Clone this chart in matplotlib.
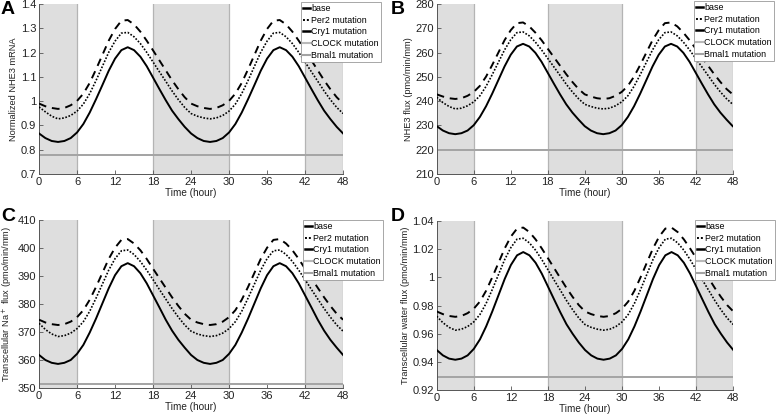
import matplotlib
matplotlib.use("Agg")
import matplotlib.pyplot as plt
from matplotlib.lines import Line2D

plt.rcParams['font.family'] = ['Liberation Sans', 'DejaVu Sans']

hours = list(range(0, 49))

# ---------- Panel A: Normalized NHE3 mRNA ----------
a_base = [0.867, 0.848, 0.836, 0.832, 0.836, 0.848, 0.871, 0.906, 0.953, 1.008, 1.066, 1.125,
          1.175, 1.210, 1.222, 1.210, 1.183, 1.144, 1.097, 1.050, 1.004, 0.961, 0.926, 0.894,
          0.867, 0.848, 0.836, 0.832, 0.836, 0.848, 0.871, 0.906, 0.953, 1.008, 1.066, 1.125,
          1.175, 1.210, 1.222, 1.210, 1.183, 1.144, 1.097, 1.050, 1.004, 0.961, 0.926, 0.894,
          0.867]
a_per2 = [0.976, 0.956, 0.938, 0.927, 0.931, 0.941, 0.959, 0.988, 1.031, 1.085, 1.143, 1.201,
          1.247, 1.280, 1.283, 1.265, 1.237, 1.201, 1.161, 1.121, 1.082, 1.042, 1.006, 0.974,
          0.949, 0.938, 0.931, 0.927, 0.931, 0.941, 0.959, 0.988, 1.031, 1.085, 1.143, 1.201,
          1.247, 1.280, 1.283, 1.265, 1.237, 1.201, 1.161, 1.121, 1.082, 1.042, 1.006, 0.974,
          0.949]
a_cry1 = [0.990, 0.979, 0.972, 0.968, 0.972, 0.983, 1.001, 1.031, 1.075, 1.131, 1.190, 1.249,
          1.297, 1.331, 1.334, 1.316, 1.286, 1.249, 1.209, 1.168, 1.127, 1.086, 1.049, 1.016,
          0.990, 0.979, 0.972, 0.968, 0.972, 0.983, 1.001, 1.031, 1.075, 1.131, 1.190, 1.249,
          1.297, 1.331, 1.334, 1.316, 1.286, 1.249, 1.209, 1.168, 1.127, 1.086, 1.049, 1.016,
          0.990]
a_clock = 0.78
a_bmal1 = 0.78

# ---------- Panel B: NHE3 flux ----------
b_base = [229.7, 227.9, 226.8, 226.4, 226.8, 227.9, 230.1, 233.5, 237.9, 243.1, 248.7, 254.3,
          259.1, 262.5, 263.6, 262.5, 259.9, 256.2, 251.7, 247.2, 242.8, 238.7, 235.3, 232.4,
          229.7, 227.9, 226.8, 226.4, 226.8, 227.9, 230.1, 233.5, 237.9, 243.1, 248.7, 254.3,
          259.1, 262.5, 263.6, 262.5, 259.9, 256.2, 251.7, 247.2, 242.8, 238.7, 235.3, 232.4,
          229.7]
b_per2 = [241.6, 239.4, 237.8, 236.8, 237.1, 238.1, 239.7, 242.2, 246.1, 250.9, 256.0, 261.1,
          265.3, 268.2, 268.5, 266.9, 264.3, 261.1, 257.6, 254.1, 250.6, 247.0, 243.8, 241.0,
          238.7, 237.8, 237.1, 236.8, 237.1, 238.1, 239.7, 242.2, 246.1, 250.9, 256.0, 261.1,
          265.3, 268.2, 268.5, 266.9, 264.3, 261.1, 257.6, 254.1, 250.6, 247.0, 243.8, 241.0,
          238.7]
b_cry1 = [242.8, 241.9, 241.2, 240.9, 241.2, 242.2, 243.8, 246.3, 250.1, 254.9, 260.0, 265.1,
          269.2, 272.1, 272.4, 270.8, 268.2, 265.1, 261.6, 258.1, 254.6, 251.1, 247.9, 245.0,
          242.8, 241.9, 241.2, 240.9, 241.2, 242.2, 243.8, 246.3, 250.1, 254.9, 260.0, 265.1,
          269.2, 272.1, 272.4, 270.8, 268.2, 265.1, 261.6, 258.1, 254.6, 251.1, 247.9, 245.0,
          242.8]
b_clock = 220.0
b_bmal1 = 220.0

# ---------- Panel C: Transcellular Na+ flux ----------
c_base = [361.8, 360.0, 359.0, 358.6, 359.0, 360.0, 362.2, 365.4, 369.8, 374.8, 380.2, 385.6,
          390.3, 393.5, 394.6, 393.5, 391.0, 387.4, 383.1, 378.8, 374.4, 370.5, 367.2, 364.4,
          361.8, 360.0, 359.0, 358.6, 359.0, 360.0, 362.2, 365.4, 369.8, 374.8, 380.2, 385.6,
          390.3, 393.5, 394.6, 393.5, 391.0, 387.4, 383.1, 378.8, 374.4, 370.5, 367.2, 364.4,
          361.8]
c_per2 = [373.1, 370.9, 369.3, 368.4, 368.7, 369.6, 371.2, 373.7, 377.4, 382.1, 387.1, 392.1,
          396.2, 399.0, 399.3, 397.7, 395.2, 392.1, 388.7, 385.2, 381.8, 378.4, 375.3, 372.5,
          370.3, 369.3, 368.7, 368.4, 368.7, 369.6, 371.2, 373.7, 377.4, 382.1, 387.1, 392.1,
          396.2, 399.0, 399.3, 397.7, 395.2, 392.1, 388.7, 385.2, 381.8, 378.4, 375.3, 372.5,
          370.3]
c_cry1 = [374.4, 373.4, 372.8, 372.5, 372.8, 373.7, 375.3, 377.8, 381.5, 386.1, 391.1, 396.1,
          400.1, 402.9, 403.2, 401.6, 399.2, 396.1, 392.6, 389.2, 385.8, 382.4, 379.3, 376.5,
          374.4, 373.4, 372.8, 372.5, 372.8, 373.7, 375.3, 377.8, 381.5, 386.1, 391.1, 396.1,
          400.1, 402.9, 403.2, 401.6, 399.2, 396.1, 392.6, 389.2, 385.8, 382.4, 379.3, 376.5,
          374.4]
c_clock = 351.5
c_bmal1 = 351.5

# ---------- Panel D: Transcellular water flux ----------
d_base = [0.9484, 0.9446, 0.9423, 0.9415, 0.9423, 0.9446, 0.9492, 0.9560, 0.9652, 0.9759, 0.9874, 0.9989,
          1.0088, 1.0157, 1.0180, 1.0157, 1.0104, 1.0027, 0.9935, 0.9843, 0.9752, 0.9667, 0.9599, 0.9537,
          0.9484, 0.9446, 0.9423, 0.9415, 0.9423, 0.9446, 0.9492, 0.9560, 0.9652, 0.9759, 0.9874, 0.9989,
          1.0088, 1.0157, 1.0180, 1.0157, 1.0104, 1.0027, 0.9935, 0.9843, 0.9752, 0.9667, 0.9599, 0.9537,
          0.9484]
d_per2 = [0.9724, 0.9678, 0.9645, 0.9625, 0.9632, 0.9651, 0.9684, 0.9737, 0.9816, 0.9915, 1.0021, 1.0127,
          1.0212, 1.0272, 1.0278, 1.0245, 1.0193, 1.0127, 1.0054, 0.9981, 0.9909, 0.9836, 0.9770, 0.9711,
          0.9665, 0.9645, 0.9632, 0.9625, 0.9632, 0.9651, 0.9684, 0.9737, 0.9816, 0.9915, 1.0021, 1.0127,
          1.0212, 1.0272, 1.0278, 1.0245, 1.0193, 1.0127, 1.0054, 0.9981, 0.9909, 0.9836, 0.9770, 0.9711,
          0.9665]
d_cry1 = [0.9758, 0.9739, 0.9726, 0.9720, 0.9726, 0.9746, 0.9778, 0.9829, 0.9906, 1.0002, 1.0104, 1.0206,
          1.0290, 1.0347, 1.0354, 1.0322, 1.0270, 1.0206, 1.0136, 1.0066, 0.9995, 0.9925, 0.9861, 0.9803,
          0.9758, 0.9739, 0.9726, 0.9720, 0.9726, 0.9746, 0.9778, 0.9829, 0.9906, 1.0002, 1.0104, 1.0206,
          1.0290, 1.0347, 1.0354, 1.0322, 1.0270, 1.0206, 1.0136, 1.0066, 0.9995, 0.9925, 0.9861, 0.9803,
          0.9758]
d_clock = 0.929
d_bmal1 = 0.929

dark_periods = [(0, 6), (18, 30), (42, 48)]
x_ticks = [0, 6, 12, 18, 24, 30, 36, 42, 48]
series_labels = ["base", "Per2 mutation", "Cry1 mutation", "CLOCK mutation", "Bmal1 mutation"]

W, H = 776.0, 416.0

panels = [
    dict(letter="A", base=a_base, per2=a_per2, cry1=a_cry1, clock=a_clock, bmal1=a_bmal1,
         ylim=(0.7, 1.4), yticks=[0.7, 0.8, 0.9, 1.0, 1.1, 1.2, 1.3, 1.4],
         yticklabels=["0.7", "0.8", "0.9", "1", "1.1", "1.2", "1.3", "1.4"],
         ylabel="Normalized NHE3 mRNA",
         rect=[0.0503, 0.5817, 0.3918, 0.4087], leg=(301, 2), letter_xy=(1, 1)),
    dict(letter="B", base=b_base, per2=b_per2, cry1=b_cry1, clock=b_clock, bmal1=b_bmal1,
         ylim=(210, 280), yticks=[210, 220, 230, 240, 250, 260, 270, 280],
         yticklabels=["210", "220", "230", "240", "250", "260", "270", "280"],
         ylabel="NHE3 flux (pmo/min/mm)",
         rect=[0.5628, 0.5817, 0.3814, 0.4087], leg=(694, 1), letter_xy=(391, 1)),
    dict(letter="C", base=c_base, per2=c_per2, cry1=c_cry1, clock=c_clock, bmal1=c_bmal1,
         ylim=(350, 410), yticks=[350, 360, 370, 380, 390, 400, 410],
         yticklabels=["350", "360", "370", "380", "390", "400", "410"],
         ylabel="Transcellular Na$^+$ flux (pmo/min/mm)",
         rect=[0.0503, 0.0673, 0.3918, 0.4038], leg=(303, 220), letter_xy=(1, 208)),
    dict(letter="D", base=d_base, per2=d_per2, cry1=d_cry1, clock=d_clock, bmal1=d_bmal1,
         ylim=(0.92, 1.04), yticks=[0.92, 0.94, 0.96, 0.98, 1.0, 1.02, 1.04],
         yticklabels=["0.92", "0.94", "0.96", "0.98", "1", "1.02", "1.04"],
         ylabel="Transcellular water flux (pmo/min/mm)",
         rect=[0.5628, 0.0625, 0.3822, 0.406], leg=(695, 220), letter_xy=(391, 208)),
]

fig = plt.figure(figsize=(7.76, 4.16), dpi=100)

shade_color = "#dedede"
edge_color = "#b4b4b4"
clock_color = "#b9b9b9"
bmal1_color = "#a3a3a3"

for p in panels:
    ax = fig.add_axes(p["rect"])
    for (s, e) in dark_periods:
        ax.axvspan(s, e, facecolor=shade_color, edgecolor="none", zorder=0)
        for xe in (s, e):
            if 0 < xe < 48:
                ax.axvline(xe, color=edge_color, lw=0.9, zorder=0.5)
    ax.axvline(48, color=edge_color, lw=0.9, zorder=0.5)
    ax.plot(hours, [p["clock"]] * len(hours), color=clock_color, lw=1.3, zorder=2)
    ax.plot(hours, [p["bmal1"]] * len(hours), color=bmal1_color, lw=1.3, zorder=2)
    ax.plot(hours, p["base"], color="black", lw=1.4, zorder=3)
    ax.plot(hours, p["per2"], color="black", lw=1.2, ls=(0, (1, 1)), zorder=3)
    ax.plot(hours, p["cry1"], color="black", lw=1.4, ls=(0, (4, 3)), zorder=3)

    ax.set_xlim(0, 48)
    ax.set_ylim(*p["ylim"])
    ax.set_xticks(x_ticks)
    ax.set_xticklabels([str(v) for v in x_ticks], fontsize=8)
    ax.set_yticks(p["yticks"])
    ax.set_yticklabels(p["yticklabels"], fontsize=8)
    ax.tick_params(direction="in", length=3, width=0.6, color="#555555", pad=2, labelcolor="#222222")
    for side in ("top", "right"):
        ax.spines[side].set_visible(False)
    for side in ("left", "bottom"):
        ax.spines[side].set_linewidth(0.7)
        ax.spines[side].set_color("#555555")
    ax.set_xlabel("Time (hour)", fontsize=7.2, labelpad=1, color="#222222")
    ax.set_ylabel(p["ylabel"], fontsize=6.7, labelpad=2, color="#222222")

    handles = [
        Line2D([], [], color="black", lw=1.8),
        Line2D([], [], color="black", lw=1.4, ls=(0, (1, 1))),
        Line2D([], [], color="black", lw=1.8),
        Line2D([], [], color=clock_color, lw=1.5),
        Line2D([], [], color=bmal1_color, lw=1.5),
    ]
    lx, ly = p["leg"]
    leg = fig.legend(handles, series_labels, loc="upper left",
                     bbox_to_anchor=(lx / W, 1 - ly / H), bbox_transform=fig.transFigure,
                     fontsize=6.4, frameon=True, fancybox=False, framealpha=1,
                     edgecolor="#999999", handlelength=0.75, handletextpad=0.15,
                     labelspacing=0.3, borderpad=0.22, borderaxespad=0)
    leg.get_frame().set_linewidth(0.6)
    leg.set_zorder(10)

    tx, ty = p["letter_xy"]
    fig.text(tx / W, 1 - ty / H, p["letter"], fontsize=14, fontweight="bold",
             ha="left", va="top")

fig.savefig("out.png", dpi=100)
